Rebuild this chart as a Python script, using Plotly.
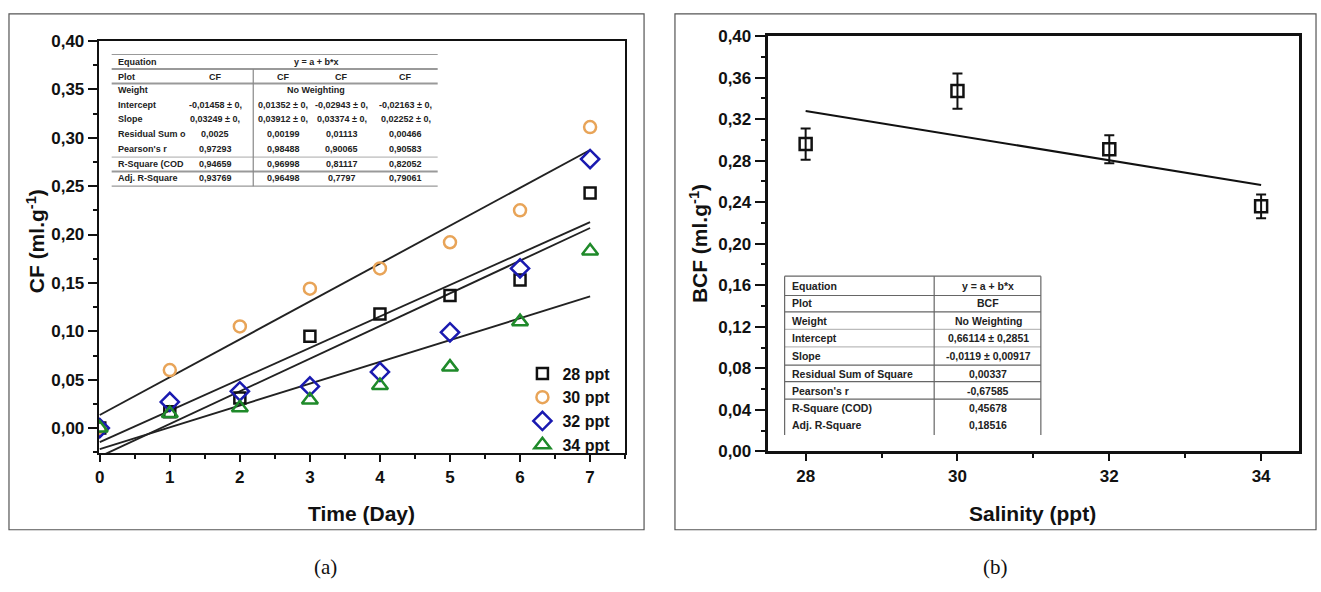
import plotly.graph_objects as go

W, H = 1321, 592

# ---------------- data: panel (a) ----------------
days = [0, 1, 2, 3, 4, 5, 6, 7]
cf_28 = [0.000, 0.017, 0.031, 0.095, 0.118, 0.137, 0.153, 0.243]
cf_30 = [0.000, 0.060, 0.105, 0.144, 0.165, 0.192, 0.225, 0.311]
cf_32 = [0.000, 0.027, 0.038, 0.043, 0.058, 0.099, 0.165, 0.278]
cf_34 = [0.000, 0.015, 0.021, 0.029, 0.044, 0.063, 0.110, 0.183]
series_names = ["28 ppt", "30 ppt", "32 ppt", "34 ppt"]
fit_intercepts = [-0.01458, 0.01352, -0.02943, -0.02163]
fit_slopes = [0.03249, 0.03912, 0.03374, 0.02252]

# table (a)
tab_a_labels = ["Equation", "Plot", "Weight", "Intercept", "Slope",
                "Residual Sum o", "Pearson's r", "R-Square (COD", "Adj. R-Square"]
tab_a_equation = "y = a + b*x"
tab_a_plot = ["CF", "CF", "CF", "CF"]
tab_a_weight = "No Weighting"
tab_a_intercept = ["-0,01458 ± 0,", "0,01352 ± 0,", "-0,02943 ± 0,", "-0,02163 ± 0,"]
tab_a_slope = ["0,03249 ± 0,", "0,03912 ± 0,", "0,03374 ± 0,", "0,02252 ± 0,"]
tab_a_rss = ["0,0025", "0,00199", "0,01113", "0,00466"]
tab_a_pearson = ["0,97293", "0,98488", "0,90065", "0,90583"]
tab_a_r2 = ["0,94659", "0,96998", "0,81117", "0,82052"]
tab_a_adjr2 = ["0,93769", "0,96498", "0,7797", "0,79061"]

# ---------------- data: panel (b) ----------------
salinity = [28, 30, 32, 34]
bcf = [0.296, 0.347, 0.291, 0.236]
bcf_err = [0.015, 0.017, 0.0135, 0.0115]
bcf_intercept = 0.66114
bcf_slope = -0.0119

tab_b_labels = ["Equation", "Plot", "Weight", "Intercept", "Slope",
                "Residual Sum of Square", "Pearson's r", "R-Square (COD)", "Adj. R-Square"]
tab_b_values = ["y = a + b*x", "BCF", "No Weighting", "0,66114 ± 0,2851",
                "-0,0119 ± 0,00917", "0,00337", "-0,67585", "0,45678", "0,18516"]

# ---------------- helpers ----------------
def px(x):
    return x / W

def py(y):
    return 1 - y / H

FONT = "Liberation Sans"
colors = ["#111111", "#E8A458", "#1A1AB0", "#1F8A2A"]
symbols = ["square-open", "circle-open", "diamond-open", "triangle-up-open"]
sizes = [11, 12, 14, 14]

fig = go.Figure()

# fit lines (a)
for a, b in zip(fit_intercepts, fit_slopes):
    xs = [days[0], days[-1]]
    fig.add_trace(go.Scatter(x=xs, y=[a + b * x for x in xs], mode="lines",
                             line=dict(color="#222222", width=1.9),
                             showlegend=False, hoverinfo="skip",
                             xaxis="x", yaxis="y"))

for name, ys, c, s, sz in zip(series_names, [cf_28, cf_30, cf_32, cf_34], colors, symbols, sizes):
    fig.add_trace(go.Scatter(x=days, y=ys, mode="markers", name=name,
                             marker=dict(symbol=s, size=sz, color=c,
                                         line=dict(color=c, width=2.5)),
                             xaxis="x", yaxis="y"))

# panel (b)
xs_b = [salinity[0], salinity[-1]]
fig.add_trace(go.Scatter(x=xs_b, y=[bcf_intercept + bcf_slope * x for x in xs_b],
                         mode="lines", line=dict(color="#111111", width=2),
                         showlegend=False, xaxis="x2", yaxis="y2"))
fig.add_trace(go.Scatter(x=salinity, y=bcf, mode="markers", showlegend=False,
                         marker=dict(symbol="square-open", size=12, color="#111111",
                                     line=dict(color="#111111", width=2.5)),
                         error_y=dict(type="data", array=bcf_err, color="#111111",
                                      thickness=2, width=5),
                         xaxis="x2", yaxis="y2"))

tickfont = dict(family=FONT, size=17, color="#111111", weight="bold")
common = dict(showgrid=False, zeroline=False, showline=True, mirror=True,
              linecolor="#111111", ticks="outside", tickcolor="#111111",
              tickfont=tickfont)

fig.update_layout(
    width=W, height=H, autosize=False,
    margin=dict(l=0, r=0, t=0, b=0),
    paper_bgcolor="white", plot_bgcolor="white",
    separators=", ",
    xaxis=dict(domain=[px(95), px(623)], anchor="y", range=[-0.015, 7.5],
               dtick=1, tick0=0, ticklen=7, tickwidth=2, linewidth=2,
               minor=dict(dtick=0.5, ticklen=4, tickwidth=1.5, ticks="outside", tickcolor="#111111"),
               **common),
    yaxis=dict(domain=[py(459), py(33)], anchor="x", range=[-0.026, 0.40],
               dtick=0.05, tick0=0, tickformat=".2f", ticklen=9, tickwidth=2, linewidth=2,
               minor=dict(dtick=0.025, ticklen=4, tickwidth=1.5, ticks="outside", tickcolor="#111111"),
               **common),
    xaxis2=dict(domain=[px(766), px(1299)], anchor="y2", range=[27.5, 34.5],
                dtick=2, tick0=28, ticklen=7, tickwidth=2, linewidth=3,
                minor=dict(dtick=1, ticklen=4, tickwidth=1.5, ticks="outside", tickcolor="#111111"),
                **common),
    yaxis2=dict(domain=[py(457), py(28)], anchor="x2", range=[0, 0.40],
                dtick=0.04, tick0=0, tickformat=".2f", ticklen=10, tickwidth=2, linewidth=3,
                minor=dict(dtick=0.02, ticklen=4, tickwidth=1.5, ticks="outside", tickcolor="#111111"),
                **common),
    legend=dict(x=px(520), y=py(359), xanchor="left", yanchor="top",
                bgcolor="rgba(0,0,0,0)", borderwidth=0,
                font=dict(family=FONT, size=16, color="#111111", weight="bold"),
                tracegroupgap=0),
    showlegend=True,
)

shapes = []
annotations = []

# outer frames
for x0, x1 in [(5, 642), (673, 1316)]:
    shapes.append(dict(type="rect", xref="paper", yref="paper",
                       x0=px(x0), x1=px(x1), y0=py(538), y1=py(5),
                       line=dict(color="#555555", width=1.2), layer="below"))

def hline(x0, x1, y, color, width):
    shapes.append(dict(type="line", xref="paper", yref="paper",
                       x0=px(x0), x1=px(x1), y0=py(y), y1=py(y),
                       line=dict(color=color, width=width)))

def vline(x, y0, y1, color, width):
    shapes.append(dict(type="line", xref="paper", yref="paper",
                       x0=px(x), x1=px(x), y0=py(y0), y1=py(y1),
                       line=dict(color=color, width=width)))

def text(x, y, s, size, anchor="center", angle=0, family=FONT, weight="bold", color="#222222"):
    annotations.append(dict(xref="paper", yref="paper", x=px(x), y=py(y), text=s,
                            showarrow=False, xanchor=anchor, yanchor="middle",
                            textangle=angle,
                            font=dict(family=family, size=size, color=color, weight=weight)))

# axis titles
text(359, 521, "Time (Day)", 21, color="#111111")
text(1032, 521, "Salinity (ppt)", 21, color="#111111")
text(32, 240, "CF (ml.g<sup>-1</sup>)", 21, angle=-90, color="#111111")
text(697, 242, "BCF (ml.g<sup>-1</sup>)", 21, angle=-90, color="#111111")

# captions
text(322, 577, "(a)", 21, family="Liberation Serif", weight="normal", color="#111111")
text(995, 577, "(b)", 21, family="Liberation Serif", weight="normal", color="#111111")

# ---- table (a) ----
ta_x0, ta_x1 = 108, 435
for y, w, c in [(47, 1.2, "#999999"), (62, 2, "#999999"), (77, 2, "#999999"),
                (153, 1, "#aaaaaa"), (168, 2, "#999999"), (183, 1.2, "#999999")]:
    hline(ta_x0, ta_x1, y, c, w)
vline(250, 62, 183, "#888888", 1.2)
rows_a = [55, 70, 84, 99, 114, 129, 145, 160, 175]
cols_a = [212, 280, 339, 403]
fs_a = 9
for lab, y in zip(tab_a_labels, rows_a):
    text(112, y, lab, fs_a, anchor="left")
text(313, rows_a[0], tab_a_equation, fs_a)
text(313, rows_a[2], tab_a_weight, fs_a)
for vals, y in zip([tab_a_plot, tab_a_intercept, tab_a_slope, tab_a_rss,
                    tab_a_pearson, tab_a_r2, tab_a_adjr2],
                   [rows_a[1]] + rows_a[3:]):
    for v, x in zip(vals, cols_a):
        text(x, y, v, fs_a)

# ---- table (b) ----
tb_x0, tb_xm, tb_x1 = 783, 933, 1040
for y, c in [(276, "#666666"), (296, "#666666"), (313, "#666666"), (331, "#bbbbbb"),
             (349, "#bbbbbb"), (368, "#666666"), (385, "#666666"), (403, "#666666")]:
    hline(tb_x0, tb_x1, y, c, 1.2)
for x in [tb_x0, tb_xm, tb_x1]:
    vline(x, 276, 440, "#666666", 1.2)
rows_b = [286, 304, 322, 340, 358, 377, 395, 412, 430]
fs_b = 10.5
for lab, val, y in zip(tab_b_labels, tab_b_values, rows_b):
    text(788, y, lab, fs_b, anchor="left")
    text(987, y, val, fs_b)

fig.update_layout(shapes=shapes, annotations=annotations)

fig.write_html("out.html", config={"displayModeBar": False},
               post_script="document.body.style.margin='0';")
